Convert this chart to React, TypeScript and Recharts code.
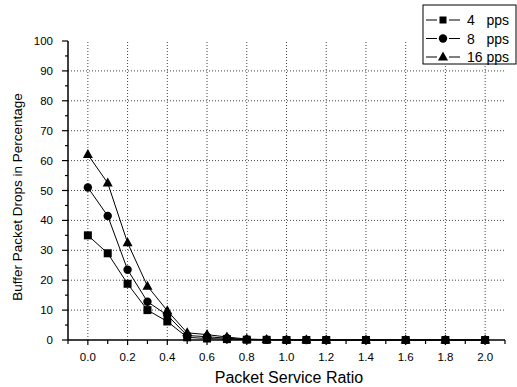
import { LineChart, Line, XAxis, YAxis, ReferenceLine, Label } from 'recharts';

// packet service ratio (x positions of the measured points)
const ratios = [0, 0.1, 0.2, 0.3, 0.4, 0.5, 0.6, 0.7, 0.8, 0.9, 1.0, 1.1, 1.2, 1.4, 1.6, 1.8, 2.0];

// buffer packet drops (%) per arrival rate
const pps4 = [35, 29, 18.8, 10, 6.2, 0.9, 0.5, 0.3, 0.1, 0.05, 0, 0, 0, 0, 0, 0, 0];
const pps8 = [51, 41.5, 23.5, 12.8, 8.3, 1.5, 1.1, 0.6, 0.2, 0.1, 0.05, 0, 0, 0, 0, 0, 0];
const pps16 = [62, 52.5, 32.5, 18, 9.8, 2.4, 1.8, 1, 0.3, 0.15, 0.1, 0.05, 0, 0, 0, 0, 0];

const seriesNames = ['4   pps', '8   pps', '16 pps'];

// axis ticks (major + minor) and grid values
const xTicks = [-0.1, 0, 0.1, 0.2, 0.3, 0.4, 0.5, 0.6, 0.7, 0.8, 0.9, 1.0, 1.1, 1.2, 1.3, 1.4, 1.5, 1.6, 1.7, 1.8, 1.9, 2.0, 2.1];
const yTicks = [0, 5, 10, 15, 20, 25, 30, 35, 40, 45, 50, 55, 60, 65, 70, 75, 80, 85, 90, 95, 100];
const xGrid = [0, 0.2, 0.4, 0.6, 0.8, 1.0, 1.2, 1.4, 1.6, 1.8, 2.0];
const yGrid = [10, 20, 30, 40, 50, 60, 70, 80, 90];

const data = ratios.map((r, i) => ({ ratio: r, a: pps4[i], b: pps8[i], c: pps16[i] }));

const FONT = '"Liberation Sans", Arial, sans-serif';
const GRID = '#444';

const XTick = ({ x, y, payload }: any) => {
  const v = payload.value;
  const major = Math.round(v * 10) % 2 === 0 && v >= 0 && v <= 2;
  return (
    <g>
      <line x1={x} y1={y} x2={x} y2={y + (major ? 5 : 4)} stroke="#000" strokeWidth={1.2} />
      {major && (
        <text x={x} y={y + 21} textAnchor="middle" fontSize={11.5} fontFamily={FONT} fill="#000">
          {v.toFixed(1)}
        </text>
      )}
    </g>
  );
};

const YTick = ({ x, y, payload }: any) => {
  const v = payload.value;
  const major = v % 10 === 0;
  return (
    <g>
      <line x1={x - (major ? 6 : 3)} y1={y} x2={x} y2={y} stroke="#000" strokeWidth={1.2} />
      {major && (
        <text x={x - 15} y={y + 4} textAnchor="end" fontSize={11.5} fontFamily={FONT} fill="#000">
          {v}
        </text>
      )}
    </g>
  );
};

const Square = ({ cx, cy, s = 8 }: any) => <rect x={cx - s / 2} y={cy - s / 2} width={s} height={s} fill="#000" />;
const Circle = ({ cx, cy }: any) => <circle cx={cx} cy={cy} r={4.2} fill="#000" />;
const Triangle = ({ cx, cy }: any) => (
  <path d={`M${cx},${cy - 5.5} L${cx + 5},${cy + 3.5} L${cx - 5},${cy + 3.5} Z`} fill="#000" />
);

const markers = [Square, Circle, Triangle];

const LegendBox = () => (
  <svg width={95} height={62} style={{ position: 'absolute', left: 422, top: 4 }}>
    <rect x={1} y={1} width={93} height={59} fill="#fff" stroke="#000" strokeWidth={1} />
    {seriesNames.map((name, i) => {
      const cy = 16 + i * 18.5;
      const M = markers[i];
      return (
        <g key={name}>
          <line x1={4} y1={cy} x2={15} y2={cy} stroke="#000" strokeWidth={1} />
          <line x1={27} y1={cy} x2={38} y2={cy} stroke="#000" strokeWidth={1} />
          <M cx={21} cy={cy} s={7} />
          <text x={45} y={cy + 5} fontSize={14} fontFamily={FONT} fill="#000" style={{ whiteSpace: 'pre' }}>
            {name}
          </text>
        </g>
      );
    })}
  </svg>
);

const App = () => {
  return (
    <div style={{ position: 'absolute', left: 0, top: 0, width: 517, height: 387, background: '#fff' }}>
      <LineChart width={517} height={387} data={data} margin={{ top: 41, right: 12, bottom: 0, left: 0 }}>
        {xGrid.map((v) => (
          <ReferenceLine key={`vx-${v}`} x={v} stroke={GRID} strokeDasharray="1 2" />
        ))}
        {yGrid.map((v) => (
          <ReferenceLine key={`hy-${v}`} y={v} stroke={GRID} strokeDasharray="1 2" />
        ))}
        <XAxis
          dataKey="ratio"
          type="number"
          domain={[-0.1, 2.1]}
          ticks={xTicks}
          interval={0}
          allowDataOverflow
          height={47}
          tickSize={0}
          tickMargin={0}
          tickLine={false}
          tick={<XTick />}
          axisLine={{ stroke: '#000', strokeWidth: 1.5 }}
        >
          <Label
            content={() => (
              <text x={289} y={383} textAnchor="middle" fontSize={16} fontFamily={FONT} fill="#000">
                Packet Service Ratio
              </text>
            )}
          />
        </XAxis>
        <YAxis
          type="number"
          domain={[0, 100]}
          ticks={yTicks}
          interval={0}
          width={68}
          tickSize={0}
          tickMargin={0}
          tickLine={false}
          tick={<YTick />}
          axisLine={{ stroke: '#000', strokeWidth: 1.5 }}
        >
          <Label
            content={() => (
              <text
                x={22}
                y={197}
                transform="rotate(-90 22 197)"
                textAnchor="middle"
                fontSize={13.5}
                fontFamily={FONT}
                fill="#000"
              >
                Buffer Packet Drops in Percentage
              </text>
            )}
          />
        </YAxis>
        <Line
          dataKey="a"
          stroke="#000"
          strokeWidth={1}
          isAnimationActive={false}
          dot={(p: any) => <Square key={`a-${p.index}`} cx={p.cx} cy={p.cy} />}
        />
        <Line
          dataKey="b"
          stroke="#000"
          strokeWidth={1}
          isAnimationActive={false}
          dot={(p: any) => <Circle key={`b-${p.index}`} cx={p.cx} cy={p.cy} />}
        />
        <Line
          dataKey="c"
          stroke="#000"
          strokeWidth={1}
          isAnimationActive={false}
          dot={(p: any) => <Triangle key={`c-${p.index}`} cx={p.cx} cy={p.cy} />}
        />
      </LineChart>
      <LegendBox />
    </div>
  );
};

export default App;
